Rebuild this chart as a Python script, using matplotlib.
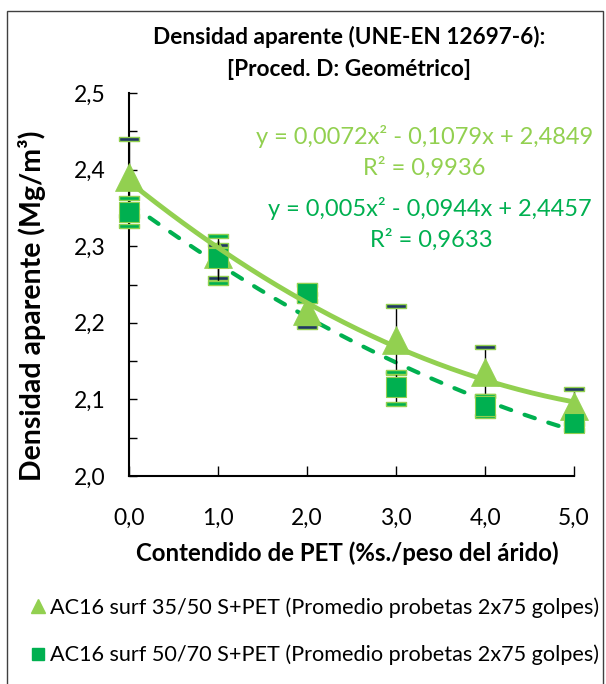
import matplotlib
matplotlib.use("Agg")
import matplotlib.pyplot as plt
import numpy as np
from matplotlib.lines import Line2D
from matplotlib.patches import Rectangle

# ---- data -------------------------------------------------------------
pet = [0.0, 1.0, 2.0, 3.0, 4.0, 5.0]
x_labels = ["0,0", "1,0", "2,0", "3,0", "4,0", "5,0"]
y_ticks = [2.0, 2.1, 2.2, 2.3, 2.4, 2.5]
y_labels = ["2,0", "2,1", "2,2", "2,3", "2,4", "2,5"]

# AC16 surf 35/50 S+PET
dens_3550 = [2.390, 2.290, 2.216, 2.178, 2.136, 2.091]
low_3550 = [2.340, 2.259, 2.195, 2.134, 2.104, 2.068]
high_3550 = [2.440, 2.302, 2.237, 2.222, 2.168, 2.114]

# AC16 surf 50/70 S+PET
dens_5070 = [2.345, 2.285, 2.239, 2.116, 2.092, 2.069]
low_5070 = [2.327, 2.252, 2.229, 2.094, 2.078, 2.060]
high_5070 = [2.363, 2.313, 2.249, 2.136, 2.105, 2.078]

# polynomial trend lines (fitted on category index 1..6)
coef_3550 = [0.0072, -0.1079, 2.4849]
coef_5070 = [0.005, -0.0944, 2.4457]
eq_3550 = "y = 0,0072x² - 0,1079x + 2,4849"
r2_3550 = "R² = 0,9936"
eq_5070 = "y = 0,005x² - 0,0944x + 2,4457"
r2_5070 = "R² = 0,9633"

label_3550 = "AC16 surf 35/50 S+PET (Promedio probetas 2x75 golpes)"
label_5070 = "AC16 surf 50/70 S+PET (Promedio probetas 2x75 golpes)"

# ---- style ------------------------------------------------------------
plt.rcParams["font.family"] = ["Lato", "DejaVu Sans"]
LIGHT = "#92D050"
GREEN = "#00B050"
NAVY = "#1F3864"
W, H = 606, 684

fig = plt.figure(figsize=(W / 100, H / 100), dpi=100)
fig.patches.append(Rectangle((7 / W, -0.02), 596 / W, 1.02 - 11 / H,
                             transform=fig.transFigure, fill=False,
                             edgecolor="#404040", lw=1.0))

ax = fig.add_axes([129.3 / W, 1 - 476 / H, (574 - 129.3) / W, (476 - 93) / H])
ax.set_xlim(0, 5)
ax.set_ylim(2.0, 2.5)
for s in ("top", "right"):
    ax.spines[s].set_visible(False)
for s in ("left", "bottom"):
    ax.spines[s].set_linewidth(1.5)

ax.set_xticks(pet)
ax.set_xticklabels(x_labels)
ax.set_yticks(y_ticks)
ax.set_yticklabels(y_labels)
ax.set_yticks(np.arange(2.05, 2.5, 0.1), minor=True)
ax.tick_params(axis="both", which="both", direction="in", width=1.0,
               labelsize=16.5, colors="black")
ax.tick_params(axis="y", which="both", length=6, pad=17)
ax.tick_params(axis="x", which="major", length=7, pad=23)

xs = np.linspace(0, 5, 200)
cap = [(-1, -0.22), (1, -0.22), (1, 0.22), (-1, 0.22), (-1, -0.22)]

# trend line of the 50/70 series (dashed)
ax.plot(xs, np.polyval(coef_5070, xs + 1), color=GREEN, lw=3.0,
        dashes=(2.6, 3.4), dash_capstyle="round", zorder=2, clip_on=False)

# 35/50 series: error bars + triangles
ax.vlines(pet, low_3550, high_3550, color="black", lw=1.0, zorder=3, clip_on=False)
for yy in (low_3550, high_3550):
    ax.plot(pet, yy, ls="none", marker=cap, ms=14.4, mfc=NAVY, mec=LIGHT,
            mew=1.0, zorder=3.5, clip_on=False)
ax.plot(pet, dens_3550, ls="none", marker="^", ms=19.5, mfc=LIGHT,
        mec=LIGHT, mew=0.5, zorder=4, clip_on=False)

# 50/70 series: error bars + squares
ax.vlines(pet, low_5070, high_5070, color="black", lw=1.0, zorder=4.5, clip_on=False)
for yy in (low_5070, high_5070):
    ax.plot(pet, yy, ls="none", marker=cap, ms=14.4, mfc=GREEN, mec=LIGHT,
            mew=1.0, zorder=4.6, clip_on=False)
ax.plot(pet, dens_5070, ls="none", marker="s", ms=14.4, mfc=GREEN,
        mec=LIGHT, mew=0.8, zorder=5, clip_on=False)

# trend line of the 35/50 series (solid)
ax.plot(xs, np.polyval(coef_3550, xs + 1), color=LIGHT, lw=3.5,
        solid_capstyle="round", zorder=6, clip_on=False)

# ---- texts ------------------------------------------------------------
def ftext(px, py, s, **kw):
    fig.text(px / W, 1 - py / H, s, **kw)

ftext(349, 37, "Densidad aparente (UNE-EN 12697-6):", ha="center", va="center",
      fontsize=16.3, fontweight="bold")
ftext(349, 70, "[Proced. D: Geométrico]", ha="center", va="center",
      fontsize=16.3, fontweight="bold")
ftext(32, 306, "Densidad aparente (Mg/m³)", ha="center", va="center",
      rotation=90, fontsize=20.5, fontweight="bold")
ftext(347, 553, "Contendido de PET (%s./peso del árido)", ha="center",
      va="center", fontsize=17.3, fontweight="bold")

ftext(425, 136, eq_3550, ha="center", va="center", fontsize=17, color=LIGHT)
ftext(424, 168, r2_3550, ha="center", va="center", fontsize=17, color=LIGHT)
ftext(430, 208, eq_5070, ha="center", va="center", fontsize=17, color=GREEN)
ftext(431, 240, r2_5070, ha="center", va="center", fontsize=17, color=GREEN)

handles = [
    Line2D([], [], ls="none", marker="^", ms=10, mfc=LIGHT, mec=LIGHT,
           label=label_3550),
    Line2D([], [], ls="none", marker="s", ms=9, mfc=GREEN, mec=GREEN,
           label=label_5070),
]
ax.legend(handles=handles, loc="upper left",
          bbox_to_anchor=(31 / W, 1 - 597 / H),
          bbox_transform=fig.transFigure, frameon=False,
          handlelength=0.6, handletextpad=0.3,
          labelspacing=1.25, fontsize=15.6, borderaxespad=0, borderpad=0)

fig.savefig("out.png", dpi=100)
